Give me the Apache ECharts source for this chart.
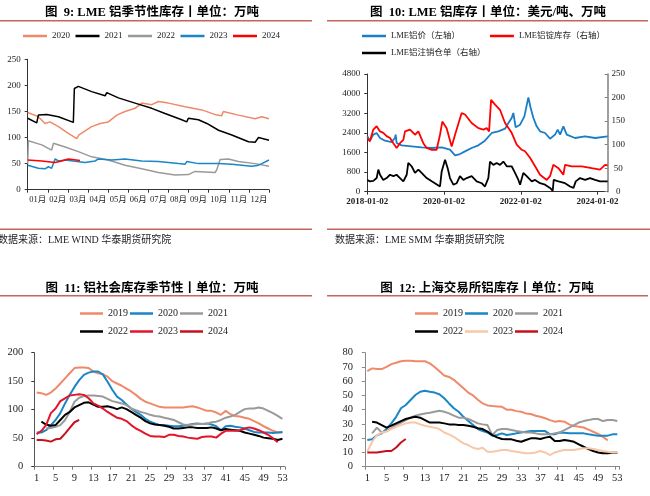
<!DOCTYPE html>
<html><head><meta charset="utf-8">
<script src="https://cdn.jsdelivr.net/npm/echarts@6/dist/echarts.min.js"></script>
<style>html,body{margin:0;padding:0;background:#fff;}#c{width:650px;height:496px;}</style>
</head><body><div id="c"></div>
<script>
// ---------- Panel 1: LME seasonal inventory (x = month position 0..12) ----------
const monthLabels = ['01月','02月','03月','04月','05月','06月','07月','08月','09月','10月','11月','12月'];
const lme2020 = [[0,148],[0.53,140],[0.86,127],[1.11,130],[1.53,121],[2.02,108],[2.44,98],[2.55,105],[3.18,121],[3.6,127],[4.01,130],[4.43,143],[4.84,150],[5.34,156],[5.67,166],[6.17,163],[6.5,169],[7.0,166],[7.83,159],[8.66,153],[9.4,143],[9.65,142],[9.73,150],[10.48,143],[11.31,136],[11.64,140],[12,136]];
const lme2021 = [[0,137],[0.45,128],[0.53,143],[0.95,144],[1.53,140],[2.27,129],[2.32,194],[2.52,198],[3.18,188],[3.85,180],[3.93,186],[4.51,176],[5.34,166],[6.17,156],[6.83,146],[7.66,134],[7.91,130],[7.99,137],[8.49,134],[8.91,127],[9.49,114],[10.15,105],[10.98,92],[11.31,91],[11.48,100],[12,95]];
const lme2022 = [[0,50],[0.03,94],[0.7,86],[1.19,76],[1.28,89],[1.86,82],[2.52,73],[3.18,63],[4.01,57],[4.84,47],[5.67,40],[6.5,33],[7.33,28],[7.99,29],[8.32,35],[9.32,33],[9.4,38],[9.57,58],[9.98,59],[10.48,54],[11.31,50],[12,45]];
const lme2023 = [[0,47],[0.53,41],[0.86,40],[1.03,44],[1.19,41],[1.36,59],[1.53,55],[1.86,57],[2.85,52],[3.35,55],[3.52,59],[4.18,57],[4.84,59],[5.67,55],[6.5,54],[7.5,50],[7.83,49],[7.91,54],[8.49,50],[9.49,50],[10.15,49],[11.14,45],[11.48,47],[11.64,50],[12,57]];
const lme2024 = [[0,57],[0.7,55],[1.36,52],[1.69,55],[2.02,59],[2.6,56]];

// ---------- Panel 2: LME price & inventory (x = days since 2018-01-02) ----------
const dateTickDays = [0,730,1461,2191];
const dateTickLabels = ['2018-01-02','2020-01-02','2022-01-02','2024-01-02'];
const lmePrice = [[0,2258],[25,2081],[57,2326],[89,2394],[121,2190],[168,2081],[232,2026],[263,2190],[270,2330],[279,1986],[327,1890],[422,1850],[517,1809],[613,1782],[708,1809],[787,1714],[835,1482],[882,1537],[930,1646],[993,1782],[1057,1890],[1120,2081],[1184,2394],[1247,2462],[1311,2570],[1343,2802],[1374,3006],[1390,3210],[1412,2625],[1454,2734],[1495,3074],[1533,3849],[1555,3414],[1581,3006],[1612,2666],[1644,2462],[1692,2394],[1739,2162],[1787,2326],[1812,2530],[1835,2326],[1866,2666],[1898,2326],[1977,2190],[2073,2258],[2168,2190],[2288,2258]];
const lmeStock = [[0,114],[25,107],[57,132],[89,139],[105,142],[121,128],[152,125],[184,118],[216,114],[248,103],[279,93],[311,103],[343,110],[359,128],[406,132],[454,121],[486,128],[533,103],[565,93],[613,89],[660,89],[692,121],[714,149],[755,135],[803,96],[835,121],[898,167],[930,164],[993,146],[1057,135],[1105,132],[1136,135],[1159,128],[1178,195],[1216,185],[1263,174],[1311,146],[1374,125],[1422,100],[1470,89],[1501,86],[1549,72],[1597,54],[1644,36],[1708,25],[1739,33],[1771,57],[1819,50],[1866,36],[1882,57],[1946,54],[2041,54],[2136,50],[2215,47],[2263,57],[2288,56]];
const lmeCancelled = [[0,25],[25,22],[57,23],[89,29],[105,47],[121,36],[152,25],[184,29],[216,36],[248,33],[279,36],[311,29],[343,22],[375,36],[390,61],[422,54],[454,40],[486,47],[517,40],[565,29],[613,22],[692,11],[708,43],[740,68],[765,50],[787,29],[819,15],[851,18],[882,33],[914,25],[946,29],[993,33],[1041,22],[1089,18],[1120,11],[1152,29],[1168,64],[1200,57],[1231,61],[1263,57],[1295,64],[1327,54],[1374,54],[1406,40],[1438,25],[1454,15],[1485,40],[1517,33],[1565,22],[1597,25],[1644,18],[1692,15],[1739,8],[1765,2],[1774,25],[1819,22],[1882,18],[1930,11],[1962,8],[1984,22],[2025,29],[2073,25],[2120,29],[2168,25],[2215,22],[2288,22]];

// ---------- Panel 3: social inventory by week ----------
const weeks = Array.from({length:53},(_,i)=>String(i+1));
const soc2019 = [130,129,126,130,137,146,155,164,173,174,174,173,167,164,162,158,150,146,142,137,132,126,119,114,111,108,105,104,104,104,104,104,105,106,104,101,98,98,95,91,98,92,89,88,86,84,80,76,71,67,63,60,60];
const soc2020 = [60,60,64,73,82,94,111,126,140,152,161,165,167,167,162,149,135,123,117,109,102,96,91,84,79,76,73,73,72,71,71,72,73,75,76,75,76,74,71,64,71,72,70,69,67,64,61,60,60,60,59,60,61];
const soc2021 = [null,null,67,68,70,73,82,96,114,121,124,125,125,124,123,119,115,113,111,108,102,99,96,94,91,89,88,86,84,82,78,74,73,74,75,75,75,78,79,82,86,88,91,96,101,102,102,104,102,98,94,89,84];
const soc2022 = [null,79,74,72,73,82,91,96,104,108,112,113,109,105,105,106,104,101,104,101,96,91,86,80,76,74,73,72,70,67,67,68,69,69,68,68,68,69,67,64,66,65,64,63,60,58,56,54,51,50,49,47,49];
const soc2023 = [57,63,73,94,102,115,120,125,126,127,126,120,111,107,102,96,91,86,84,80,73,67,63,58,54,53,53,52,56,56,54,53,51,50,49,52,53,53,51,58,63,63,63,64,67,69,67,64,60,56,50,43,null];
const soc2024 = [47,47,46,44,48,49,58,68,78,82];

// ---------- Panel 4: SHFE inventory by week ----------
const shfe2019 = [67,69,68.5,68.5,70,72,73,74,74.4,74.4,74,74,74,72.5,70,67,64,63,61,58,55,52,50,47,44.4,43,42.6,42.3,42,40,40,39,38.6,37.4,37,35.8,35,34,32.7,31.6,32,31.6,29.7,28.5,28,27.5,26,24.5,23,21,18.5];
const shfe2020 = [18.7,19.2,22,23.4,26.4,30.4,35,41,43.3,46.8,50.3,52.6,53.3,52.6,52,50.8,48,44.4,41,38.6,35,32,29.2,26.4,25,24,21.8,22.2,23.4,22.2,22.7,23.4,24,24.6,25,25,25,25,22.7,22.7,24,23.9,23.4,23.4,23.4,23.4,22.7,22.2,21.8,21.8,21.8,22.7,22.7];
const shfe2021 = [null,23.4,27.4,24,25,27,29.2,31,32.7,34.4,35.8,36.7,37.4,37.9,38.6,39.3,38.6,37.4,35.8,34.4,34.4,33.5,32,30.4,29.7,29.2,22.2,25.7,26.4,26.4,25.7,25,24.6,24,24,23.4,22.7,22.7,22.7,23.4,24,25.7,27.4,29.2,31,32,32.7,33.5,33.5,32,32.7,32.7,32];
const shfe2022 = [null,31.6,31,29.2,27.4,28.8,30.4,32,33.5,34.4,35,34.4,32.7,31,31,31,30.4,29.7,29.7,29.2,29.2,28.8,28,27,26.4,24.6,22.2,20.6,19.4,19.2,19.2,18.2,17.5,18.7,19.9,19.9,19.4,20.4,21,18,18,18.7,18.2,17.5,15.7,14,12.4,11,10,9.4,9.4,9.8,9.8];
const shfe2023 = [10.5,17.5,22.2,24,24.6,26.4,28,29.2,30.4,31,31,29.7,28.8,28,27.4,26.4,24,22.7,21,18.7,16.4,15.2,13.3,12.4,13.3,10.5,10.5,11,11.7,11.7,11,10.5,10,9.4,9.4,10,11,10,8.2,10,11,11.7,11.7,11.7,12.4,12.9,12.9,12.4,11.7,11,10.5,10,10];
const shfe2024 = [10,10,10,10.5,11,11,13.5,17,19.4];

// ---------- styling ----------
const SERIF = '"Liberation Serif","Times New Roman","Noto Sans CJK SC",serif';
const C = {salmon:'#f0896a', blue:'#1a86c6', gray:'#9a9a9a', black:'#000000', red:'#ff0000', crimson:'#e3152b', darkred:'#c8101c', peach:'#f8c7a8'};

function line(name, data, color, xi, yi, w){
  return {type:'line', name, data, xAxisIndex:xi, yAxisIndex:yi, symbol:'none', showSymbol:false,
    lineStyle:{color, width:w||1.5}, itemStyle:{color}, silent:true, connectNulls:false, z:3};
}
function leg(names, left, cy, fs, iw, gap){
  return {data:names, left, top:cy - fs/2, orient:'horizontal', icon:'rect', itemWidth:iw, itemHeight:2.5,
    itemGap:gap, padding:0, selectedMode:false, formatter:n=>n.trim(),
    textStyle:{fontFamily:SERIF, fontSize:fs, color:'#222'}};
}
function yAx(gi, min, max, interval, fs, margin, extra){
  return Object.assign({type:'value', gridIndex:gi, min, max, interval,
    axisLine:{show:true, lineStyle:{color:'#333', width:1}},
    axisTick:{show:true, length:3, lineStyle:{color:'#333'}},
    splitLine:{show:false},
    axisLabel:{fontFamily:SERIF, fontSize:fs, color:'#222', margin, formatter:v=>String(v)}}, extra||{});
}
function titleText(text, x, y){
  return {type:'text', x, y, silent:true, style:{text, fontFamily:SERIF, fontWeight:'bold', fontSize:12.5, fill:'#000', align:'center', verticalAlign:'middle'}};
}
function rule(x1, x2, y){
  return {type:'line', silent:true, shape:{x1, y1:y, x2, y2:y}, style:{stroke:'#c4655f', lineWidth:1.5}};
}
function srcText(text, x, y){
  return {type:'text', x, y, silent:true, style:{text, fontFamily:SERIF, fontSize:10, fill:'#222', align:'left', verticalAlign:'middle'}};
}

const option = {
  animation:false,
  backgroundColor:'#fff',
  grid:[
    {left:27.7, top:59.3, width:241.3, height:130.4},
    {left:367.3, top:74, width:240.4, height:117.7},
    {left:34.3, top:352.7, width:250.5, height:114},
    {left:364.9, top:352.7, width:254.8, height:114}
  ],
  legend:[
    leg(['2020','2021','2022','2023','2024'], 23, 36, 9, 24, 5.5),
    leg(['LME铝价（左轴）','LME铝锭库存（右轴）'], 362, 36, 8.5, 24, 30),
    leg(['LME铝注销仓单（右轴）'], 362, 53, 8.5, 24, 30),
    leg(['2019 ','2020 ','2021 '], 80, 313.5, 10, 23, 2),
    leg(['2022 ','2023 ','2024 '], 80, 331.5, 10, 23, 2),
    leg(['2019  ','2020  ','2021  '], 415, 313.5, 10, 23, 2),
    leg(['2022  ','2023  ','2024  '], 415, 331.5, 10, 23, 2)
  ],
  xAxis:[
    {type:'value', gridIndex:0, min:0, max:12, show:false, position:'bottom'},
    {type:'category', gridIndex:0, data:monthLabels, boundaryGap:true, position:'bottom', offset:0,
      axisLine:{lineStyle:{color:'#333'}}, axisTick:{show:true, length:3, alignWithLabel:false, lineStyle:{color:'#333'}},
      axisLabel:{interval:0, fontFamily:SERIF, fontSize:8.5, color:'#222', margin:6}},
    {type:'value', gridIndex:1, min:0, max:2288, position:'bottom',
      axisLine:{lineStyle:{color:'#333'}}, splitLine:{show:false},
      axisTick:{show:true, length:3, customValues:dateTickDays, lineStyle:{color:'#333'}},
      axisLabel:{customValues:dateTickDays, fontFamily:SERIF, fontSize:9, color:'#222', margin:5, fontWeight:'bold',
        formatter:v=>{const i=dateTickDays.indexOf(v); return i>=0?dateTickLabels[i]:'';}}},
    {type:'category', gridIndex:2, data:weeks, boundaryGap:true, position:'bottom',
      axisLine:{lineStyle:{color:'#777'}}, axisTick:{show:true, length:3, interval:3, alignWithLabel:false, lineStyle:{color:'#777'}},
      axisLabel:{interval:3, fontFamily:SERIF, fontSize:10.5, color:'#222', margin:6}},
    {type:'category', gridIndex:3, data:weeks, boundaryGap:true, position:'bottom',
      axisLine:{lineStyle:{color:'#888'}}, axisTick:{show:true, length:3, interval:3, alignWithLabel:false, lineStyle:{color:'#888'}},
      axisLabel:{interval:3, fontFamily:SERIF, fontSize:10.5, color:'#222', margin:6}}
  ],
  yAxis:[
    yAx(0, 0, 250, 50, 9, 7),
    yAx(1, 0, 4800, 800, 9, 7),
    yAx(1, 0, 250, 50, 9, 10.5, {position:'right', axisLine:{show:true, lineStyle:{color:'#808080', width:1.5}},
      axisTick:{show:true, length:3, inside:true, lineStyle:{color:'#808080'}},
      axisLabel:{fontFamily:SERIF, fontSize:9, color:'#222', margin:10.5, align:'center', formatter:v=>String(v)}}),
    yAx(2, 0, 200, 50, 10.5, 11, {axisLine:{show:true, lineStyle:{color:'#555'}}}),
    yAx(3, 0, 80, 10, 10.5, 12, {axisLine:{show:true, lineStyle:{color:'#888'}}, axisTick:{show:true, length:3, lineStyle:{color:'#888'}}})
  ],
  series:[
    line('2020', lme2020, C.salmon, 0, 0, 1.5),
    line('2021', lme2021, C.black, 0, 0, 1.5),
    line('2022', lme2022, C.gray, 0, 0, 1.5),
    line('2023', lme2023, C.blue, 0, 0, 1.5),
    line('2024', lme2024, C.red, 0, 0, 1.5),

    line('LME铝价（左轴）', lmePrice, '#1a7dc8', 2, 1, 1.8),
    line('LME铝锭库存（右轴）', lmeStock, '#ff0000', 2, 2, 1.8),
    line('LME铝注销仓单（右轴）', lmeCancelled, '#000000', 2, 2, 1.8),

    line('2019 ', soc2019, C.salmon, 3, 3, 2),
    line('2020 ', soc2020, C.blue, 3, 3, 2),
    line('2021 ', soc2021, C.gray, 3, 3, 2),
    line('2022 ', soc2022, C.black, 3, 3, 2),
    line('2023 ', soc2023, C.crimson, 3, 3, 2),
    line('2024 ', soc2024, C.darkred, 3, 3, 2),

    line('2019  ', shfe2019, C.salmon, 4, 4, 2),
    line('2020  ', shfe2020, C.blue, 4, 4, 2),
    line('2021  ', shfe2021, C.gray, 4, 4, 2),
    line('2022  ', shfe2022, C.black, 4, 4, 2),
    line('2023  ', shfe2023, C.peach, 4, 4, 2),
    line('2024  ', shfe2024, C.darkred, 4, 4, 2)
  ],
  graphic:[
    titleText('图  9: LME 铝季节性库存丨单位：万吨', 152, 12.5),
    titleText('图  10: LME 铝库存丨单位：美元/吨、万吨', 488, 12.5),
    titleText('图  11: 铝社会库存季节性丨单位：万吨', 152, 288.5),
    titleText('图  12: 上海交易所铝库存丨单位：万吨', 487, 288.5),
    rule(0, 312, 20.7), rule(327, 648, 20.7),
    rule(0, 312, 229.3), rule(327, 650, 229.3),
    rule(0, 312, 295.7), rule(327, 648, 295.7),
    srcText('数据来源：LME WIND 华泰期货研究院', -2, 240.7),
    srcText('数据来源：LME SMM 华泰期货研究院', 335, 240.5)
  ]
};
const chart = echarts.init(document.getElementById('c'), null, {renderer:'canvas'});
chart.setOption(option);
</script></body></html>
